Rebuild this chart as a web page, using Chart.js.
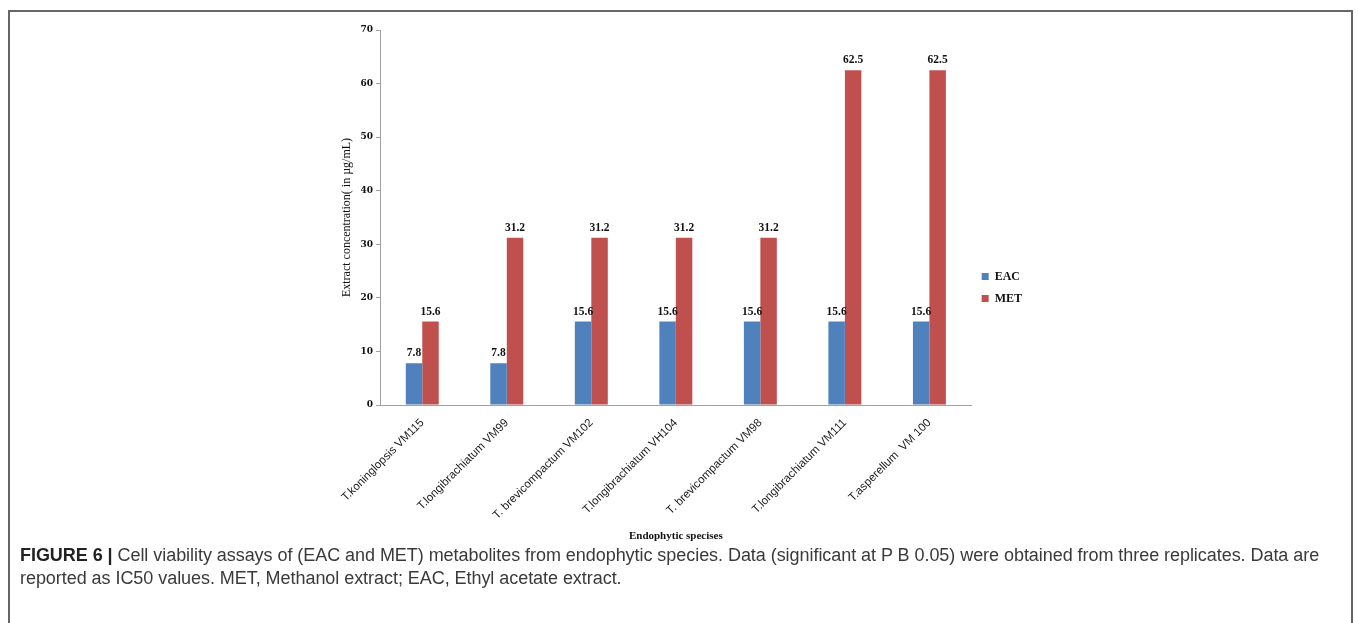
<!DOCTYPE html>
<html>
<head>
<meta charset="utf-8">
<script src="https://cdn.jsdelivr.net/npm/chart.js@4.4.1/dist/chart.umd.min.js"></script>
<style>
  html, body { margin: 0; padding: 0; background: #fff; width: 1358px; height: 623px; overflow: hidden; }
  #frame { position: absolute; left: 8px; top: 10px; width: 1345px; height: 700px; border: 2px solid #666; border-bottom: none; box-sizing: border-box; }
  #wrap { position: absolute; left: 0; top: 0; width: 1358px; height: 560px; }
  #caption { position: absolute; left: 20px; top: 544px; font-family: "Liberation Sans", Arial, sans-serif; font-size: 18px; line-height: 23px; color: #3a3a3a; white-space: nowrap; letter-spacing: -0.05px; }
  #caption b { color: #222; }
</style>
</head>
<body>
<div id="frame"></div>
<div id="wrap"><canvas id="c"></canvas></div>
<div id="caption"><b>FIGURE 6 |</b> Cell viability assays of (EAC and MET) metabolites from endophytic species. Data (significant at P B 0.05) were obtained from three replicates. Data are<br>reported as IC50 values. MET, Methanol extract; EAC, Ethyl acetate extract.</div>
<script>
const categories = [
  "T.koninglopsis VM115",
  "T.longibrachiatum VM99",
  "T. brevicompactum VM102",
  "T.longibrachiatum VH104",
  "T. brevicompactum VM98",
  "T.longibrachiatum VM111",
  "T.asperellum  VM 100"
];
const eacValues = [7.8, 7.8, 15.6, 15.6, 15.6, 15.6, 15.6];
const metValues = [15.6, 31.2, 31.2, 31.2, 31.2, 62.5, 62.5];
const yTicks = [0, 10, 20, 30, 40, 50, 60, 70];

const valueLabels = {
  id: 'valueLabels',
  afterDatasetsDraw(chart) {
    const ctx = chart.ctx;
    ctx.save();
    ctx.font = 'bold 11.5px "Liberation Serif", "Times New Roman", serif';
    ctx.fillStyle = '#111';
    ctx.textAlign = 'center';
    ctx.textBaseline = 'bottom';
    chart.data.datasets.forEach((ds, di) => {
      const meta = chart.getDatasetMeta(di);
      meta.data.forEach((el, i) => {
        ctx.fillText(String(ds.data[i]), el.x, el.y - 4);
      });
    });
    ctx.restore();
  }
};

new Chart(document.getElementById('c'), {
  type: 'bar',
  data: {
    labels: categories,
    datasets: [
      { label: 'EAC', data: eacValues, backgroundColor: '#4F81BD', categoryPercentage: 0.39, barPercentage: 1.0 },
      { label: 'MET', data: metValues, backgroundColor: '#C0504D', categoryPercentage: 0.39, barPercentage: 1.0 }
    ]
  },
  options: {
    responsive: true,
    maintainAspectRatio: false,
    animation: false,
    layout: { padding: { left: 336, right: 326, top: 30, bottom: 15 } },
    plugins: {
      tooltip: { enabled: false },
      legend: {
        position: 'right',
        labels: {
          boxWidth: 7, boxHeight: 7, padding: 10,
          color: '#111',
          font: { family: '"Liberation Serif", "Times New Roman", serif', size: 12, weight: 'bold' }
        }
      }
    },
    scales: {
      x: {
        afterFit(scale) { scale.height = 140; },
        grid: { drawOnChartArea: false, drawTicks: false },
        border: { color: '#a0a0a0', width: 1 },
        ticks: {
          minRotation: 45, maxRotation: 45, padding: 11,
          color: '#1a1a1a',
          font: { family: '"Liberation Sans", Arial, sans-serif', size: 11.5 }
        },
        title: {
          display: true, text: 'Endophytic specises', color: '#111',
          font: { family: '"Liberation Serif", "Times New Roman", serif', size: 11, weight: 'bold' },
          padding: { top: 4, bottom: 2 }
        }
      },
      y: {
        min: 0, max: 70,
        afterFit(scale) { scale.width = 44; },
        afterBuildTicks(scale) { scale.ticks = yTicks.map(v => ({ value: v })); },
        grid: { drawOnChartArea: false, drawTicks: true, tickLength: 4, color: '#a0a0a0' },
        border: { color: '#a0a0a0', width: 1 },
        ticks: {
          padding: 3, color: '#111',
          font: { family: '"DejaVu Serif", serif', size: 9, weight: 'bold' }
        },
        title: {
          display: true, text: 'Extract concentration( in µg/mL)', color: '#111',
          font: { family: '"Liberation Serif", "Times New Roman", serif', size: 12 }
        }
      }
    }
  },
  plugins: [valueLabels]
});
</script>
</body>
</html>
